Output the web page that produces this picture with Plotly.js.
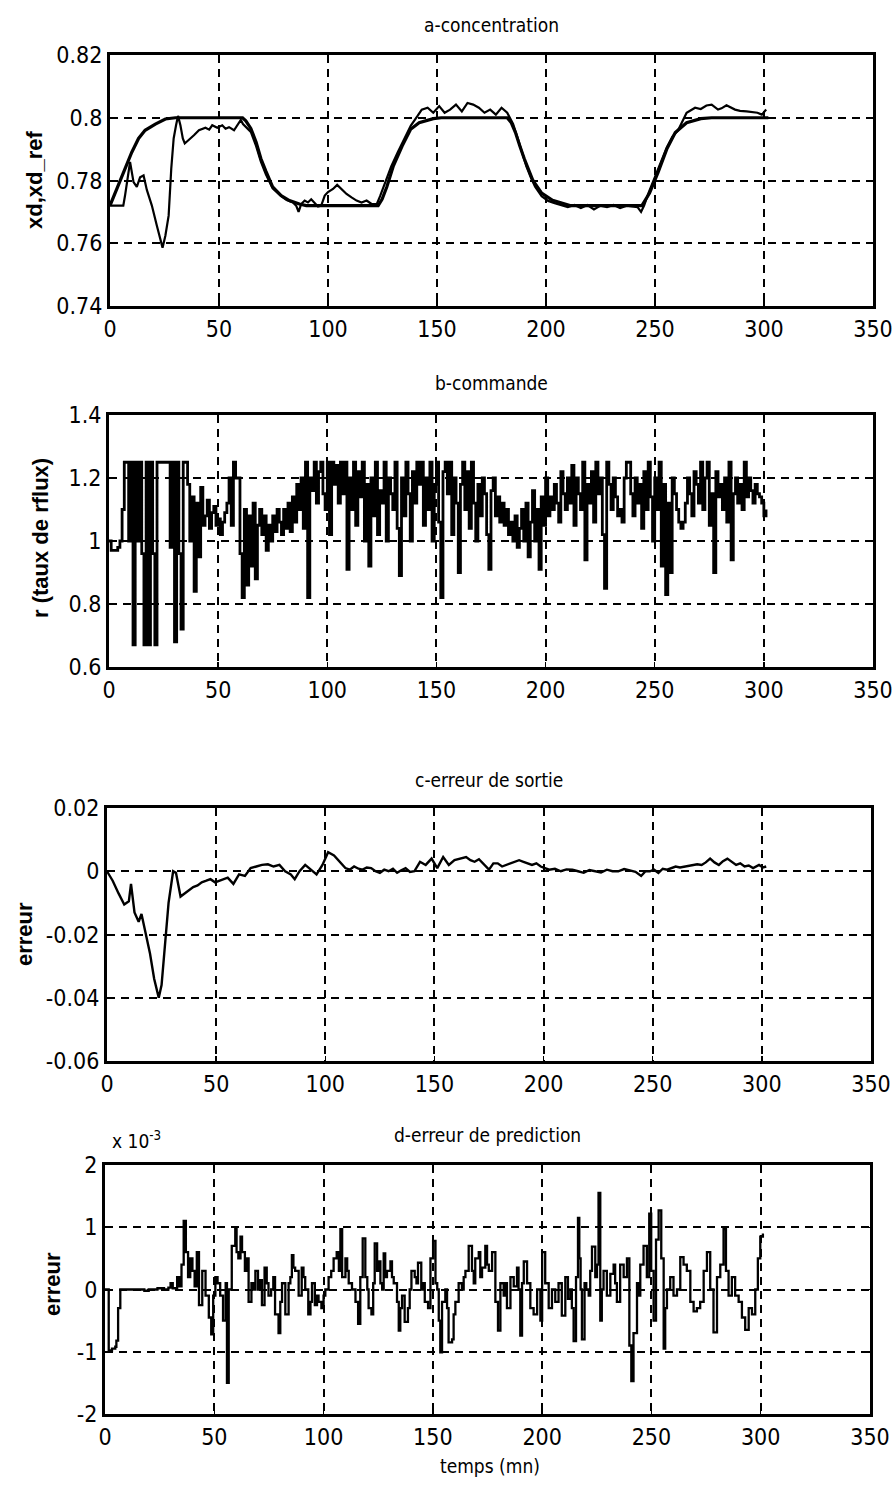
<!DOCTYPE html>
<html>
<head>
<meta charset="utf-8">
<script src="https://cdn.plot.ly/plotly-3.0.1.min.js"></script>
<style>
  html, body { margin: 0; padding: 0; background: #fff; }
  #chart { width: 896px; height: 1485px; }
</style>
</head>
<body>
<div id="chart"></div>
<script>
// ---- a-concentration: reference trajectory and measured distillate purity ----
const tRef = [0, 3.8, 6.9, 10, 13.1, 16.1, 20.8, 25.4, 30, 60.8, 62.3, 64.6, 67, 69.2, 71.5, 74.6, 78.5, 82.3, 86.9, 90, 123, 124.8, 127, 130, 134, 137.9, 141.8, 148.3, 152, 182.2, 184, 186, 188, 190, 194, 198, 203, 211, 244, 247.5, 251.4, 255.4, 259.3, 264.5, 271, 276, 302];
const xdRef = [0.772, 0.7784, 0.7837, 0.789, 0.7934, 0.796, 0.798, 0.7996, 0.8, 0.8, 0.799, 0.7966, 0.7923, 0.787, 0.783, 0.778, 0.7752, 0.7736, 0.7725, 0.772, 0.772, 0.774, 0.778, 0.7847, 0.791, 0.7963, 0.7984, 0.7997, 0.8, 0.8, 0.7985, 0.7953, 0.791, 0.787, 0.78, 0.776, 0.7737, 0.772, 0.772, 0.776, 0.7826, 0.79, 0.7953, 0.7984, 0.7997, 0.8, 0.8];

const tXd = [0, 6.1, 6.9, 8.4, 9.2, 10.8, 12.3, 13.8, 15.4, 16.9, 19.2, 21.5, 23.1, 24.1, 25.4, 26.9, 28.1, 29.2, 30.3, 31.2, 32.3, 33.4, 34.3, 36.1, 38.5, 40.8, 43.8, 45.5, 46.9, 49.2, 51.5, 53, 54.6, 56.9, 58.5, 60, 61, 62.5, 64.6, 67, 69.2, 71.5, 74.6, 78.5, 81, 83.9, 85.4, 86.5, 87.7, 89.3, 90.8, 92.3, 93.8, 95.4, 96.9, 98.5, 100, 102.3, 104.2, 106.2, 108.5, 110.8, 113.1, 115.4, 117.7, 120, 122.4, 123.9, 126, 129, 132, 135, 138, 141, 143, 145.7, 148.3, 151, 153.5, 156, 158.7, 161.4, 164, 166.6, 169.2, 171.8, 174.4, 177, 179.6, 182.2, 184.9, 187, 189, 191, 193, 195, 198, 201, 204, 207, 210, 213, 216, 219, 222, 225, 228, 231, 234, 237, 240, 242, 243.6, 245, 247, 249, 251.4, 255.4, 258, 260.6, 264.5, 268.4, 271, 273.6, 276, 278.9, 280.5, 282.8, 286.7, 289, 292, 295, 297, 299, 301];
const xdMeas = [0.772, 0.772, 0.7752, 0.7816, 0.7859, 0.7795, 0.778, 0.781, 0.7816, 0.777, 0.772, 0.7656, 0.7613, 0.7586, 0.7624, 0.7688, 0.7838, 0.7934, 0.7976, 0.8006, 0.7976, 0.7934, 0.7918, 0.7928, 0.7944, 0.796, 0.7968, 0.7962, 0.7976, 0.7968, 0.7976, 0.7965, 0.797, 0.796, 0.7976, 0.7993, 0.798, 0.797, 0.7955, 0.791, 0.786, 0.782, 0.7775, 0.775, 0.7738, 0.773, 0.772, 0.770, 0.7725, 0.7736, 0.773, 0.774, 0.773, 0.7717, 0.772, 0.7752, 0.7763, 0.7773, 0.7786, 0.7773, 0.7757, 0.7746, 0.7736, 0.773, 0.7736, 0.7725, 0.7725, 0.775, 0.779, 0.7845, 0.789, 0.793, 0.7975, 0.8005, 0.8026, 0.8032, 0.8016, 0.8037, 0.8016, 0.8026, 0.8042, 0.802, 0.8047, 0.8042, 0.8032, 0.8016, 0.8026, 0.801, 0.8032, 0.8016, 0.798, 0.7935, 0.789, 0.7845, 0.781, 0.778, 0.775, 0.7735, 0.7728, 0.7722, 0.7715, 0.7722, 0.7712, 0.7722, 0.7708, 0.772, 0.7715, 0.7722, 0.7712, 0.772, 0.7718, 0.7715, 0.770, 0.772, 0.776, 0.7795, 0.7835, 0.7905, 0.794, 0.796, 0.8016, 0.8032, 0.8028, 0.8039, 0.8042, 0.8026, 0.803, 0.804, 0.8026, 0.8022, 0.802, 0.8018, 0.8016, 0.801, 0.8026];

// ---- b-commande: reflux ratio, one sample per minute from t = 0 ----
const refluxCmd = [
  1.00, 0.97, 0.97, 0.97, 0.98, 1.00, 1.10, 1.25, 1.25, 1.00,
  1.25, 0.67, 1.25, 1.00, 1.25, 0.96, 0.67, 1.25, 0.67, 1.25,
  0.96, 0.67, 1.25, 1.25, 1.25, 1.25, 1.25, 1.25, 0.98, 1.25,
  0.68, 1.25, 0.96, 0.72, 1.25, 1.25, 1.18, 1.00, 1.14, 0.84,
  1.12, 0.95, 1.17, 1.05, 1.08, 1.13, 1.04, 1.09, 1.11, 1.05,
  1.07, 1.02, 1.06, 1.09, 1.12, 1.20, 1.05, 1.25, 1.20, 1.20,
  0.96, 0.82, 1.10, 0.86, 1.08, 0.92, 1.12, 0.88, 1.05, 1.10,
  1.02, 1.08, 0.97, 1.05, 1.00, 1.08, 1.03, 1.10, 1.06, 1.02,
  1.10, 1.04, 1.12, 1.03, 1.14, 1.06, 1.18, 1.10, 1.20, 1.04,
  1.25, 0.82, 1.20, 1.16, 1.25, 1.12, 1.22, 1.25, 1.15, 1.10,
  1.25, 1.02, 1.25, 1.18, 1.24, 1.12, 1.25, 1.15, 1.25, 0.91,
  1.20, 1.10, 1.25, 1.05, 1.22, 1.14, 1.25, 1.00, 1.18, 0.92,
  1.20, 1.08, 1.25, 1.02, 1.16, 1.12, 1.25, 1.00, 1.20, 1.15,
  1.10, 1.25, 1.04, 0.89, 1.20, 1.08, 1.25, 1.15, 1.00, 1.22,
  1.12, 1.25, 1.18, 1.25, 1.05, 1.20, 1.10, 1.25, 1.00, 1.18,
  1.25, 1.06, 0.82, 1.22, 1.25, 1.15, 1.25, 1.02, 1.20, 1.12,
  0.90, 1.18, 1.25, 1.10, 1.22, 1.04, 1.25, 1.12, 1.00, 1.18,
  1.08, 1.20, 1.15, 1.02, 0.91, 1.16, 1.20, 1.08, 1.14, 1.06,
  1.12, 1.05, 1.10, 1.02, 1.06, 1.00, 1.08, 0.98, 1.04, 1.10,
  1.00, 1.12, 0.95, 1.06, 1.16, 1.00, 1.10, 0.91, 1.14, 1.05,
  1.20, 1.08, 1.14, 1.10, 1.18, 1.12, 1.06, 1.22, 1.15, 1.10,
  1.20, 1.12, 1.24, 1.05, 1.20, 1.15, 1.10, 1.25, 0.94, 1.18,
  1.12, 1.22, 1.06, 1.25, 1.15, 1.20, 1.02, 0.85, 1.25, 1.18,
  1.10, 1.20, 1.14, 1.08, 1.10, 1.06, 1.20, 1.25, 1.25, 1.15,
  1.08, 1.20, 1.12, 1.18, 1.04, 1.22, 1.10, 1.25, 1.14, 1.00,
  1.20, 1.10, 1.25, 0.92, 1.18, 0.83, 1.12, 0.90, 1.20, 1.15,
  1.10, 1.06, 1.04, 1.06, 1.12, 1.20, 1.15, 1.08, 1.22, 1.18,
  1.12, 1.25, 1.10, 1.20, 1.25, 1.05, 1.15, 0.90, 1.22, 1.14,
  1.18, 1.10, 1.20, 1.06, 1.25, 0.94, 1.15, 1.20, 1.12, 1.18,
  1.10, 1.25, 1.14, 1.20, 1.16, 1.12, 1.18, 1.15, 1.14, 1.12,
  1.08, 1.10
];
const tCmd = refluxCmd.map((_, i) => i);

// ---- c-erreur de sortie ----
const tErrOut = [0, 2.6, 5.3, 7.9, 10, 11, 12.6, 14.5, 15.8, 17.9, 19.7, 21.6, 23.7, 25, 26.3, 28.2, 30.3, 31.6, 33.7, 35.5, 37.5, 39.5, 41.5, 43.4, 45.5, 47.4, 49.5, 51.3, 53.3, 55.3, 57.9, 60.5, 63.2, 65.8, 68.4, 71, 73.7, 76.3, 79, 81.6, 84.2, 86, 88.2, 90.8, 93.4, 96, 98.7, 101.3, 104, 106.6, 109.2, 111.2, 113.2, 115.2, 117.1, 119, 121, 123, 125, 127, 129, 131, 132.9, 134.8, 136.8, 138.8, 140.8, 143.4, 146, 148.7, 151.3, 154, 156.6, 159.2, 161.8, 164.5, 166.5, 168.4, 170.4, 172.4, 175, 177, 179, 181, 182.9, 184.8, 186.8, 188.8, 190.8, 192.8, 194.7, 196.7, 198.7, 200.6, 202.6, 205.2, 207.9, 210.5, 213.2, 215.8, 218.4, 221, 223.7, 226.3, 229, 231.6, 234.2, 236.9, 239.5, 242.1, 244.7, 246.7, 248.7, 250.6, 252.6, 254.6, 256.6, 258.5, 260.5, 262.5, 264.5, 266.5, 268.4, 270.4, 272.4, 274.3, 276.3, 278.3, 280.3, 282.2, 284.2, 286.2, 288.2, 290.1, 292.1, 294, 296, 298.7, 300.5, 302];
const errOut = [0, -0.003, -0.007, -0.0105, -0.0095, -0.004, -0.013, -0.016, -0.0135, -0.02, -0.026, -0.034, -0.040, -0.036, -0.026, -0.010, 0.0, -0.0005, -0.008, -0.007, -0.006, -0.005, -0.0045, -0.0035, -0.003, -0.0025, -0.0035, -0.003, -0.0025, -0.002, -0.004, -0.001, -0.0015, 0.001, 0.0015, 0.002, 0.0022, 0.0015, 0.002, 0.0, -0.001, -0.0025, 0.0, 0.002, 0.0005, -0.001, 0.002, 0.006, 0.005, 0.003, 0.001, 0.0005, 0.0015, 0.0008, 0.0005, 0.0012, 0.001, 0.0, -0.0005, 0.0005, 0.0, 0.0008, -0.0005, 0.0003, 0.001, -0.0002, 0.0, 0.003, 0.002, 0.004, 0.001, 0.0045, 0.002, 0.0035, 0.004, 0.0045, 0.0035, 0.003, 0.0038, 0.0025, 0.0005, 0.0025, 0.0025, 0.0015, 0.002, 0.0025, 0.003, 0.0035, 0.003, 0.0025, 0.002, 0.0025, 0.0015, 0.001, 0.0005, 0.0008, 0.0, 0.0006, 0.0005, 0.0, -0.0005, 0.0004, 0.0, -0.0004, 0.0005, 0.0, 0.0, 0.0007, 0.0003, -0.0002, -0.0015, 0.0, 0.0, 0.0005, -0.0005, 0.0008, 0.0005, 0.0010, 0.0015, 0.0012, 0.0015, 0.0018, 0.002, 0.0022, 0.002, 0.0028, 0.004, 0.0028, 0.002, 0.0032, 0.004, 0.003, 0.002, 0.0025, 0.0015, 0.0018, 0.001, 0.002, 0.0012, 0.0015];

// ---- d-erreur de prediction (values in units of 1e-3) ----
const tErrPred = [0, 1, 1.7, 3.2, 4.7, 5.2, 6, 7, 10, 15, 18, 20, 24, 27, 29, 30, 31, 33, 34, 35, 36, 37, 38, 39, 40, 41, 42, 43, 44.5, 46, 47.5, 48.6, 49.5, 50.5, 51.5, 52.7, 54, 55.2, 55.8, 56.6, 58, 59.6, 60.2, 61, 62, 62.7, 64, 65, 65.7, 67, 68, 68.8, 70, 71, 71.8, 73, 74, 74.8, 76, 77, 77.8, 79.4, 80.2, 81, 82.5, 84, 84.8, 85.5, 86.2, 87, 88.6, 90, 90.8, 91.6, 93, 94, 94.7, 96, 97, 97.7, 99, 100, 100.8, 102.3, 103.5, 104.6, 106, 107, 107.7, 108.5, 110, 110.8, 111.5, 113, 114.6, 115.8, 116.8, 117.9, 119.1, 120, 120.6, 121.9, 122.7, 123.4, 124.5, 125.3, 126, 126.8, 127.5, 128.2, 129, 130.6, 131.3, 132.1, 133.6, 134.4, 135.1, 135.9, 137.1, 138.6, 139.4, 140.2, 141.7, 142.5, 143.2, 144.7, 145.5, 146.3, 147.8, 148.9, 150.1, 151.2, 152, 152.7, 153.4, 154.2, 155.7, 156.5, 157.2, 158.8, 159.5, 160.3, 161.8, 163.3, 164.1, 164.9, 166.4, 167.9, 168.7, 169.4, 171, 171.7, 172.5, 174, 174.8, 175.6, 177.1, 178.6, 179.8, 180.9, 182.4, 183.2, 183.9, 185.5, 187, 188.5, 189.2, 190, 190.8, 191.6, 193.1, 194.6, 196.1, 197.7, 199.2, 200, 201.4, 203, 204.5, 206, 207.5, 209, 210.6, 211.8, 212.9, 213.6, 214.4, 215.5, 216.4, 217, 217.6, 218.2, 219.4, 220.2, 221.3, 222, 222.8, 224.3, 225.1, 225.8, 226.6, 227.3, 228.1, 229.6, 231.2, 232.7, 233.4, 234.2, 235.7, 237.3, 238.8, 239.9, 240.8, 241.8, 243.4, 244.2, 244.9, 246.4, 247.9, 249, 249.9, 251, 252.1, 253.3, 254.5, 255.6, 256.3, 257.1, 258.6, 260.1, 261.7, 263.2, 264.7, 266.2, 267.8, 269.3, 270.8, 272.3, 273.9, 275.4, 276.9, 278.4, 280, 281.5, 283, 284.1, 285.3, 286.8, 288.3, 289.9, 291.4, 292.9, 294.5, 296, 297.5, 298.7, 299.8, 301];
const errPred = [0, 0, -0.98, -0.95, -0.92, -0.82, -0.3, 0, 0, 0, -0.02, 0, 0.02, 0, 0.03, 0.1, 0.02, 0.2, 0.05, 0.4, 1.1, 0.6, 0.2, 0.5, 0.3, 0.05, 0.6, -0.25, 0.3, -0.1, -0.45, -0.72, -0.1, 0.2, 0.1, -0.1, -0.5, 0.1, -1.5, 0, 0.7, 0.97, 0.6, 0.5, 0.85, 0.6, 0.3, 0.5, -0.2, 0.1, 0.0, 0.3, 0.0, 0.15, -0.25, 0.35, 0.1, -0.1, 0.0, 0.2, -0.4, -0.7, -0.2, 0.1, -0.4, 0.1, 0.2, 0.55, 0.35, 0.3, -0.1, 0.35, 0.2, 0.0, -0.4, -0.2, 0.1, -0.25, -0.1, -0.2, -0.3, -0.1, 0.0, 0.2, 0.3, 0.5, 0.6, 0.3, 0.97, 0.2, 0.5, 0.3, 0.1, 0.0, -0.2, -0.55, 0.2, 0.82, 0.2, 0.0, -0.3, -0.4, 0.1, 0.74, 0.3, 0.45, 0.1, 0.0, 0.58, 0.2, 0.3, 0.45, 0.2, 0.1, -0.2, -0.66, -0.3, -0.1, -0.52, -0.3, 0.0, 0.3, 0.2, 0.1, 0.43, 0.0, 0.1, -0.2, -0.3, 0.5, 0.78, 0.1, 0.0, -0.5, -1.01, -0.2, 0.0, -0.3, -0.85, -0.8, -0.4, -0.2, 0.1, 0.0, 0.2, 0.3, 0.7, 0.3, 0.1, 0.5, 0.6, 0.2, 0.35, 0.7, 0.4, 0.3, 0.6, -0.2, -0.66, 0.1, -0.1, 0.1, -0.3, 0.2, 0.05, 0.35, 0.0, -0.74, 0.1, 0.45, 0.1, -0.3, -0.4, 0.0, -0.5, 0.6, 0.1, -0.3, 0.0, -0.2, 0.1, -0.42, 0.2, -0.15, 0.0, -0.3, -0.83, 0.2, 1.15, 0.5, 0.0, -0.8, 0.1, 0.0, -0.1, 0.3, 0.69, 0.2, 0.4, 1.55, -0.5, 0.0, 0.3, -0.1, 0.25, 0.4, 0.1, -0.2, 0.4, 0.2, 0.5, -0.9, -1.47, -0.7, 0.1, -0.1, 0.4, 0.7, 0.2, 1.22, 0.3, -0.5, 0.8, 1.27, 0.5, -0.95, -0.3, 0.0, 0.2, -0.1, 0.0, 0.52, 0.4, 0.3, -0.2, -0.35, -0.3, -0.2, 0.3, 0.6, 0.0, -0.69, 0.2, 0.4, 0.97, 0.3, -0.1, 0.2, -0.1, -0.2, -0.45, -0.65, -0.3, -0.4, 0.0, 0.5, 0.85, 0.9];

// ---- tick labels ----
const timeTicks = [0, 50, 100, 150, 200, 250, 300, 350];
const concTicks = [0.74, 0.76, 0.78, 0.80, 0.82];
const concLabels = ['0.74', '0.76', '0.78', '0.8', '0.82'];
const cmdTicks = [0.6, 0.8, 1.0, 1.2, 1.4];
const cmdLabels = ['0.6', '0.8', '1', '1.2', '1.4'];
const outTicks = [-0.06, -0.04, -0.02, 0, 0.02];
const outLabels = ['-0.06', '-0.04', '-0.02', '0', '0.02'];
const predTicks = [-2, -1, 0, 1, 2];
const predLabels = ['-2', '-1', '0', '1', '2'];

// ---- page geometry helpers (pixels -> paper fractions) ----
const W = 896, H = 1485;
const xDom = (l, r) => [l / W, r / W];
const yDom = (t, b) => [1 - b / H, 1 - t / H];
const px = x => x / W;
const py = y => 1 - y / H;

const NARROW = '"DejaVu Sans Condensed", "Liberation Sans Narrow", "Liberation Sans", sans-serif';
const TICK_FONT = { family: NARROW, size: 23, color: '#000' };
const LABEL_FONT = { family: NARROW, size: 19, color: '#000' };
const YLAB_FONT = { family: '"Liberation Sans", Arial, sans-serif', size: 22, color: '#000', weight: 'bold' };

function xAxis(dom, anchor) {
  return {
    domain: dom, anchor: anchor, range: [0, 350],
    tickvals: timeTicks, ticktext: timeTicks.map(String),
    showgrid: true, gridcolor: '#000', gridwidth: 2, griddash: '8px,6px',
    showline: true, linecolor: '#000', linewidth: 3, mirror: 'ticks',
    ticks: 'inside', ticklen: 5, tickcolor: '#000', tickwidth: 1.5,
    zeroline: false, tickfont: TICK_FONT, fixedrange: true
  };
}
function yAxis(dom, anchor, range, vals, labels) {
  return {
    domain: dom, anchor: anchor, range: range,
    tickvals: vals, ticktext: labels,
    showgrid: true, gridcolor: '#000', gridwidth: 2, griddash: '8px,6px',
    showline: true, linecolor: '#000', linewidth: 3, mirror: 'ticks',
    ticks: 'inside', ticklen: 5, tickcolor: '#000', tickwidth: 1.5,
    zeroline: false, tickfont: TICK_FONT, fixedrange: true
  };
}

const lineStyle = w => ({ color: '#000', width: w });

const traces = [
  { x: tRef, y: xdRef, xaxis: 'x', yaxis: 'y', mode: 'lines', line: lineStyle(3.2), name: 'xd_ref' },
  { x: tXd, y: xdMeas, xaxis: 'x', yaxis: 'y', mode: 'lines', line: lineStyle(2.2), name: 'xd' },
  { x: tCmd, y: refluxCmd, xaxis: 'x2', yaxis: 'y2', mode: 'lines', line: Object.assign(lineStyle(2.8), { shape: 'hv' }), name: 'r' },
  { x: tErrOut, y: errOut, xaxis: 'x3', yaxis: 'y3', mode: 'lines', line: lineStyle(2.4), name: 'erreur de sortie' },
  { x: tErrPred, y: errPred, xaxis: 'x4', yaxis: 'y4', mode: 'lines', line: Object.assign(lineStyle(2.3), { shape: 'hv' }), name: 'erreur de prediction' }
];

const ann = (text, x, y, font, extra) => Object.assign({
  text: text, xref: 'paper', yref: 'paper', x: px(x), y: py(y),
  xanchor: 'center', yanchor: 'middle', showarrow: false, font: font
}, extra || {});

const layout = {
  width: W, height: H,
  margin: { l: 0, r: 0, t: 0, b: 0 },
  paper_bgcolor: '#fff', plot_bgcolor: '#fff',
  showlegend: false,
  xaxis:  xAxis(xDom(110, 873), 'y'),
  yaxis:  yAxis(yDom(55, 306), 'x', [0.74, 0.82], concTicks, concLabels),
  xaxis2: xAxis(xDom(109, 873), 'y2'),
  yaxis2: yAxis(yDom(415, 667), 'x2', [0.6, 1.4], cmdTicks, cmdLabels),
  xaxis3: xAxis(xDom(107, 871), 'y3'),
  yaxis3: yAxis(yDom(808, 1061), 'x3', [-0.06, 0.02], outTicks, outLabels),
  xaxis4: xAxis(xDom(105, 870), 'y4'),
  yaxis4: yAxis(yDom(1165, 1414), 'x4', [-2, 2], predTicks, predLabels),
  annotations: [
    ann('a-concentration', 491, 25, LABEL_FONT),
    ann('b-commande', 491, 383, LABEL_FONT),
    ann('c-erreur de sortie', 489, 780, LABEL_FONT),
    ann('d-erreur de prediction', 487, 1135, LABEL_FONT),
    ann('temps (mn)', 490, 1466, LABEL_FONT),
    ann('x 10<sup>-3</sup>', 136, 1140, LABEL_FONT),
    ann('xd,xd_ref', 34, 180, YLAB_FONT, { textangle: -90 }),
    ann('r (taux de rflux)', 40, 538, YLAB_FONT, { textangle: -90 }),
    ann('erreur', 24, 934, YLAB_FONT, { textangle: -90 }),
    ann('erreur', 52, 1284, YLAB_FONT, { textangle: -90 })
  ]
};

Plotly.newPlot('chart', traces, layout, { staticPlot: true, displayModeBar: false });
</script>
</body>
</html>
